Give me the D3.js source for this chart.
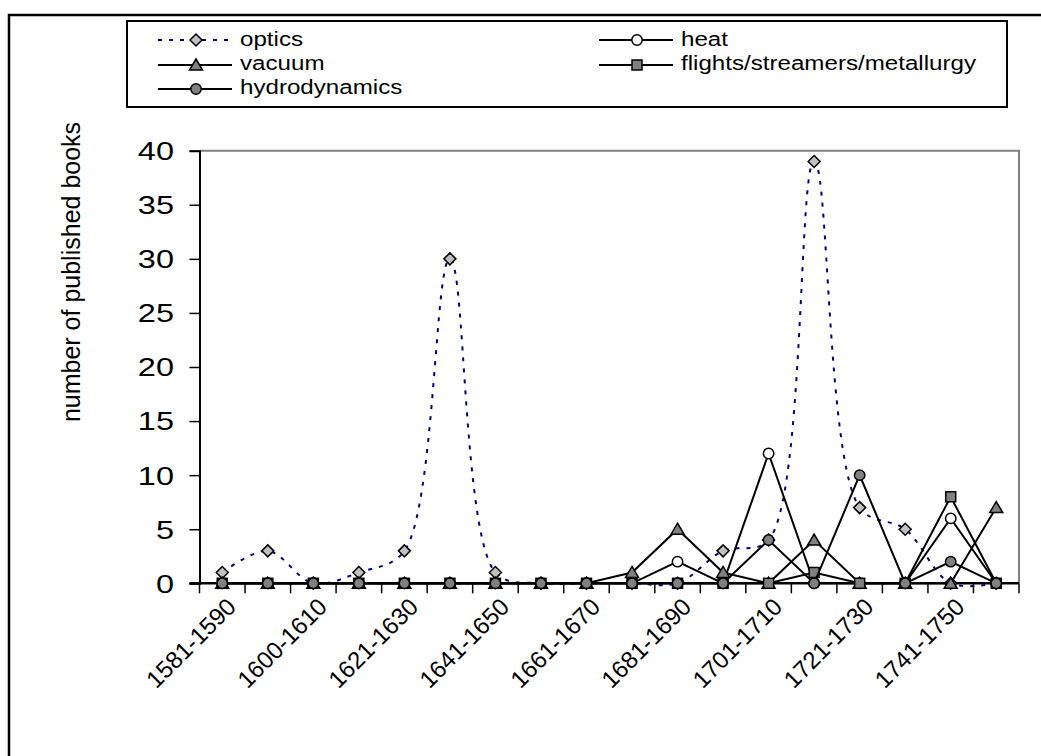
<!DOCTYPE html>
<html><head><meta charset="utf-8">
<script src="https://cdn.jsdelivr.net/npm/d3@7"></script>
<style>
body{margin:0;background:#fff}
svg{display:block}
text{font-family:"Liberation Sans",Arial,Helvetica,sans-serif;fill:#000}
</style>
</head><body>
<svg id="chart" width="1041" height="756"></svg>
<script>
// ---- data ----
const categories = ["1581-1590","1591-1600","1600-1610","1611-1620","1621-1630","1631-1640","1641-1650","1651-1660","1661-1670","1671-1680","1681-1690","1691-1700","1701-1710","1711-1720","1721-1730","1731-1740","1741-1750","1751-1760"];
const optics        = [1,3,0,1,3,30,1,0,0,0,0,3,4,39,7,5,0,0];
const heat          = [0,0,0,0,0,0,0,0,0,0,2,0,12,0,0,0,6,0];
const vacuum        = [0,0,0,0,0,0,0,0,0,1,5,1,0,4,0,0,0,7];
const flights       = [0,0,0,0,0,0,0,0,0,0,0,0,0,1,0,0,8,0];
const hydrodynamics = [0,0,0,0,0,0,0,0,0,0,0,0,4,0,10,0,2,0];
const yTicks = [0,5,10,15,20,25,30,35,40];
const seriesNames = ["optics","heat","vacuum","flights/streamers/metallurgy","hydrodynamics"];
const yTitle = "number of published books";

// ---- layout ----
const svg = d3.select("#chart");
const L = 199.5, R = 1019, T = 150.7, B = 583.3;
const x = d3.scaleBand().domain(categories).range([L, R]).padding(0);
const y = d3.scaleLinear().domain([0, 40]).range([B, T]);
const cx = c => x(c) + x.bandwidth() / 2;

// outer chart frame
svg.append("rect").attr("x", 9).attr("y", 15).attr("width", 1100).attr("height", 800)
  .attr("fill", "none").attr("stroke", "#000").attr("stroke-width", 2.5);

// plot area border (gray)
svg.append("path").attr("d", `M${L},${T}H${R}V${B}`).attr("fill", "none")
  .attr("stroke", "#808080").attr("stroke-width", 2);

// y axis
const yAxis = d3.axisLeft(y).tickValues(yTicks).tickSize(10).tickFormat("");
const gy = svg.append("g").attr("transform", `translate(${L},0)`).call(yAxis);
gy.select(".domain").attr("stroke", "#000").attr("stroke-width", 2);
gy.selectAll(".tick line").attr("stroke", "#000").attr("stroke-width", 1.5);
svg.append("g").selectAll("text").data(yTicks).join("text")
  .attr("transform", d => `translate(174,${y(d)}) scale(1.25,1)`)
  .attr("text-anchor", "end").attr("dy", "0.36em").attr("font-size", 26).text(d => d);

// x axis (ticks at category boundaries)
const bounds = d3.range(categories.length + 1).map(i => L + i * x.bandwidth());
svg.append("g").selectAll("line").data(bounds).join("line")
  .attr("x1", d => d).attr("x2", d => d).attr("y1", B).attr("y2", B + 10)
  .attr("stroke", "#000").attr("stroke-width", 1.5);
svg.append("line").attr("x1", L - 10).attr("x2", R).attr("y1", B).attr("y2", B)
  .attr("stroke", "#000").attr("stroke-width", 2.5);

svg.append("g").selectAll("text").data(categories.filter((c, i) => i % 2 === 0)).join("text")
  .attr("transform", c => `translate(${cx(c) + 3},${596}) rotate(-45)`)
  .attr("text-anchor", "end").attr("dy", "0.72em").attr("font-size", 24).text(c => c);

// y title
svg.append("text").attr("transform", `translate(80,272) rotate(-90)`)
  .attr("text-anchor", "middle").attr("font-size", 25).text(yTitle);

// ---- markers ----
function marker(g, type, px, py) {
  let p;
  if (type === "diamond") p = g.append("path").attr("d", `M${px},${py-6}L${px+6},${py}L${px},${py+6}L${px-6},${py}Z`).attr("fill", "#C0C0C0");
  else if (type === "triangle") p = g.append("path").attr("d", `M${px},${py-6}L${px+6.5},${py+5}L${px-6.5},${py+5}Z`).attr("fill", "#808080");
  else if (type === "square") p = g.append("rect").attr("x", px-5).attr("y", py-5).attr("width", 10).attr("height", 10).attr("fill", "#808080");
  else if (type === "circleW") p = g.append("circle").attr("cx", px).attr("cy", py).attr("r", 5.2).attr("fill", "#fff");
  else p = g.append("circle").attr("cx", px).attr("cy", py).attr("r", 5.2).attr("fill", "#808080");
  p.attr("stroke", "#000").attr("stroke-width", 1.5);
}

const series = [
  {name: seriesNames[0], values: optics, type: "diamond", dotted: true},
  {name: seriesNames[1], values: heat, type: "circleW"},
  {name: seriesNames[2], values: vacuum, type: "triangle"},
  {name: seriesNames[3], values: flights, type: "square"},
  {name: seriesNames[4], values: hydrodynamics, type: "circle"}
];

const plot = svg.append("g");
series.forEach(s => {
  const line = d3.line().x((d, i) => cx(categories[i])).y(d => y(d))
    .curve(s.dotted ? d3.curveCatmullRom.alpha(0.5) : d3.curveLinear);
  const path = plot.append("path").attr("d", line(s.values)).attr("fill", "none");
  if (s.dotted) path.attr("stroke", "#000080").attr("stroke-width", 2).attr("stroke-dasharray", "4,7");
  else path.attr("stroke", "#000").attr("stroke-width", 2);
  const mg = plot.append("g");
  s.values.forEach((v, i) => marker(mg, s.type, cx(categories[i]), y(v)));
});

// ---- legend ----
svg.append("rect").attr("x", 127).attr("y", 21).attr("width", 880).attr("height", 86)
  .attr("fill", "#fff").attr("stroke", "#000").attr("stroke-width", 2);
const legendPos = [
  {lx: 158, ly: 40, tx: 240, ty: 46},
  {lx: 599, ly: 40, tx: 681, ty: 46},
  {lx: 158, ly: 65, tx: 240, ty: 70},
  {lx: 599, ly: 65, tx: 681, ty: 70},
  {lx: 158, ly: 89, tx: 240, ty: 94}
];
series.forEach((s, i) => {
  const p = legendPos[i];
  const ln = svg.append("line").attr("x1", p.lx).attr("x2", p.lx + 74).attr("y1", p.ly).attr("y2", p.ly);
  if (s.dotted) ln.attr("stroke", "#000080").attr("stroke-width", 2).attr("stroke-dasharray", "4,7");
  else ln.attr("stroke", "#000").attr("stroke-width", 2);
  marker(svg, s.type, p.lx + 38, p.ly);
  svg.append("text").attr("transform", `translate(${p.tx},${p.ty}) scale(1.15,1)`)
    .attr("font-size", 21).text(s.name);
});
</script>
</body></html>
